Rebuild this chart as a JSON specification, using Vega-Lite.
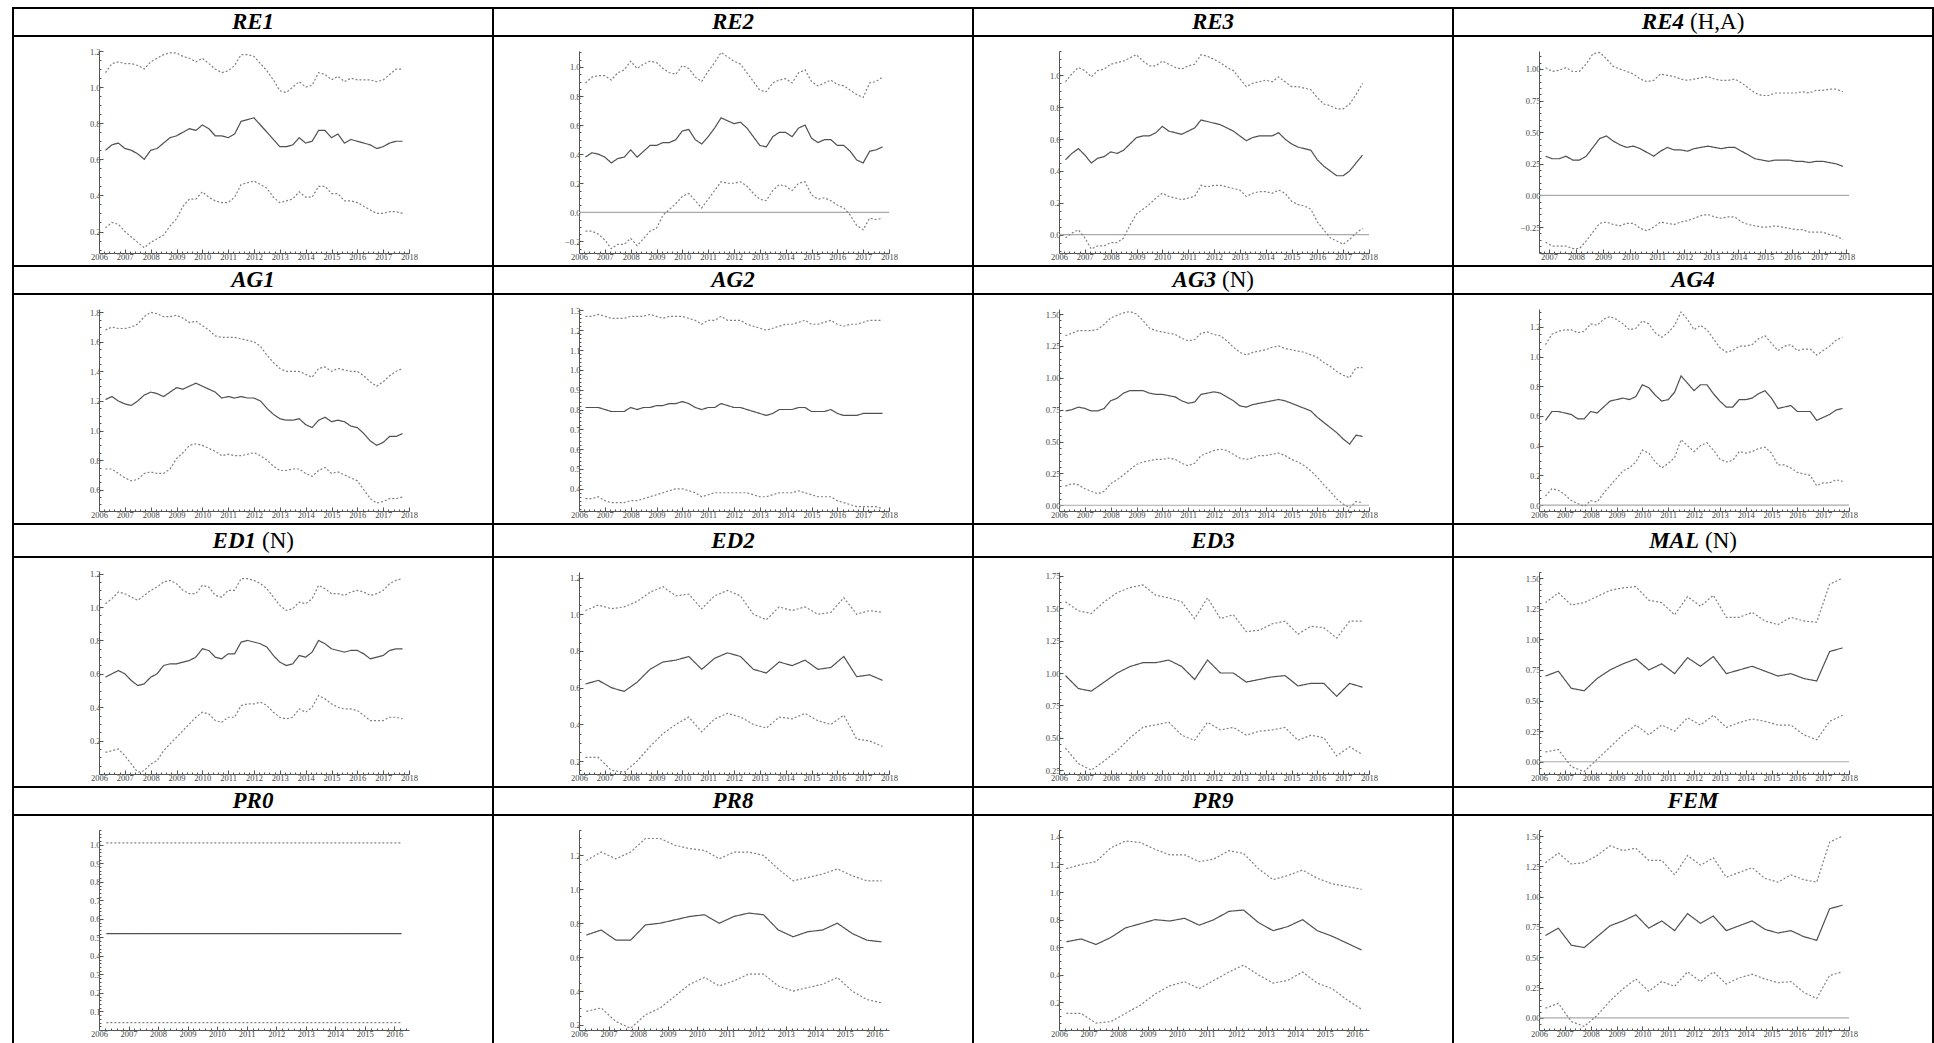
{
"$schema":"https://vega.github.io/schema/vega-lite/v6.json",
"background":"white",
"padding":{"left":12,"top":7,"right":2,"bottom":0},
"columns":4,"spacing":0,"bounds":"flush",
"config":{"view":{"stroke":"#000","strokeWidth":2},
"axis":{"grid":false,"domainColor":"#555","domainWidth":1,"tickColor":"#555","tickWidth":1,"tickSize":-4,"labelFont":"Liberation Serif","labelFontSize":8.5,"labelColor":"#444","labelPadding":3,"labelFlush":false,"labelOverlap":false,"labelBound":false},
"text":{"font":"Liberation Serif","fontSize":23,"color":"#000","baseline":"middle"}},
"datasets":{"est":[
{"p":"RE1","t":2006.25,"lo":0.22,"m":0.65,"hi":1.08},{"p":"RE1","t":2006.5,"lo":0.25,"m":0.68,"hi":1.13},{"p":"RE1","t":2006.75,"lo":0.24,"m":0.69,"hi":1.14},{"p":"RE1","t":2007,"lo":0.2,"m":0.66,"hi":1.13},{"p":"RE1","t":2007.25,"lo":0.17,"m":0.65,"hi":1.13},{"p":"RE1","t":2007.5,"lo":0.14,"m":0.63,"hi":1.12},{"p":"RE1","t":2007.75,"lo":0.11,"m":0.6,"hi":1.1},{"p":"RE1","t":2008,"lo":0.14,"m":0.65,"hi":1.14},{"p":"RE1","t":2008.25,"lo":0.16,"m":0.66,"hi":1.16},{"p":"RE1","t":2008.5,"lo":0.18,"m":0.69,"hi":1.18},{"p":"RE1","t":2008.75,"lo":0.23,"m":0.72,"hi":1.19},{"p":"RE1","t":2009,"lo":0.27,"m":0.73,"hi":1.19},{"p":"RE1","t":2009.25,"lo":0.34,"m":0.75,"hi":1.17},{"p":"RE1","t":2009.5,"lo":0.38,"m":0.77,"hi":1.16},{"p":"RE1","t":2009.75,"lo":0.38,"m":0.76,"hi":1.14},{"p":"RE1","t":2010,"lo":0.42,"m":0.79,"hi":1.16},{"p":"RE1","t":2010.25,"lo":0.39,"m":0.77,"hi":1.13},{"p":"RE1","t":2010.5,"lo":0.37,"m":0.73,"hi":1.1},{"p":"RE1","t":2010.75,"lo":0.36,"m":0.73,"hi":1.08},{"p":"RE1","t":2011,"lo":0.36,"m":0.72,"hi":1.09},{"p":"RE1","t":2011.25,"lo":0.39,"m":0.74,"hi":1.12},{"p":"RE1","t":2011.5,"lo":0.46,"m":0.81,"hi":1.18},{"p":"RE1","t":2011.75,"lo":0.47,"m":0.82,"hi":1.18},{"p":"RE1","t":2012,"lo":0.48,"m":0.83,"hi":1.17},{"p":"RE1","t":2012.25,"lo":0.46,"m":0.79,"hi":1.13},{"p":"RE1","t":2012.5,"lo":0.44,"m":0.75,"hi":1.09},{"p":"RE1","t":2012.75,"lo":0.39,"m":0.71,"hi":1.04},{"p":"RE1","t":2013,"lo":0.36,"m":0.67,"hi":0.98},{"p":"RE1","t":2013.25,"lo":0.37,"m":0.67,"hi":0.97},{"p":"RE1","t":2013.5,"lo":0.38,"m":0.68,"hi":1.0},{"p":"RE1","t":2013.75,"lo":0.42,"m":0.72,"hi":1.03},{"p":"RE1","t":2014,"lo":0.39,"m":0.69,"hi":1.0},{"p":"RE1","t":2014.25,"lo":0.39,"m":0.7,"hi":1.01},{"p":"RE1","t":2014.5,"lo":0.45,"m":0.76,"hi":1.08},{"p":"RE1","t":2014.75,"lo":0.45,"m":0.76,"hi":1.07},{"p":"RE1","t":2015,"lo":0.41,"m":0.72,"hi":1.04},{"p":"RE1","t":2015.25,"lo":0.41,"m":0.74,"hi":1.06},{"p":"RE1","t":2015.5,"lo":0.37,"m":0.69,"hi":1.03},{"p":"RE1","t":2015.75,"lo":0.37,"m":0.71,"hi":1.05},{"p":"RE1","t":2016,"lo":0.36,"m":0.7,"hi":1.04},{"p":"RE1","t":2016.25,"lo":0.34,"m":0.69,"hi":1.04},{"p":"RE1","t":2016.5,"lo":0.32,"m":0.68,"hi":1.04},{"p":"RE1","t":2016.75,"lo":0.3,"m":0.66,"hi":1.03},{"p":"RE1","t":2017,"lo":0.3,"m":0.67,"hi":1.04},{"p":"RE1","t":2017.25,"lo":0.31,"m":0.69,"hi":1.07},{"p":"RE1","t":2017.5,"lo":0.31,"m":0.7,"hi":1.1},{"p":"RE1","t":2017.75,"lo":0.3,"m":0.7,"hi":1.1},
{"p":"RE2","t":2006.25,"lo":-0.13,"m":0.38,"hi":0.89},{"p":"RE2","t":2006.5,"lo":-0.13,"m":0.41,"hi":0.93},{"p":"RE2","t":2006.75,"lo":-0.15,"m":0.4,"hi":0.94},{"p":"RE2","t":2007,"lo":-0.19,"m":0.38,"hi":0.94},{"p":"RE2","t":2007.25,"lo":-0.25,"m":0.34,"hi":0.91},{"p":"RE2","t":2007.5,"lo":-0.22,"m":0.37,"hi":0.96},{"p":"RE2","t":2007.75,"lo":-0.22,"m":0.38,"hi":0.98},{"p":"RE2","t":2008,"lo":-0.18,"m":0.43,"hi":1.04},{"p":"RE2","t":2008.25,"lo":-0.23,"m":0.38,"hi":0.99},{"p":"RE2","t":2008.5,"lo":-0.18,"m":0.42,"hi":1.02},{"p":"RE2","t":2008.75,"lo":-0.13,"m":0.46,"hi":1.04},{"p":"RE2","t":2009,"lo":-0.11,"m":0.46,"hi":1.03},{"p":"RE2","t":2009.25,"lo":-0.02,"m":0.48,"hi":0.99},{"p":"RE2","t":2009.5,"lo":0.02,"m":0.48,"hi":0.96},{"p":"RE2","t":2009.75,"lo":0.06,"m":0.5,"hi":0.95},{"p":"RE2","t":2010,"lo":0.11,"m":0.56,"hi":1.01},{"p":"RE2","t":2010.25,"lo":0.13,"m":0.57,"hi":0.99},{"p":"RE2","t":2010.5,"lo":0.08,"m":0.5,"hi":0.93},{"p":"RE2","t":2010.75,"lo":0.03,"m":0.47,"hi":0.9},{"p":"RE2","t":2011,"lo":0.09,"m":0.52,"hi":0.97},{"p":"RE2","t":2011.25,"lo":0.15,"m":0.58,"hi":1.03},{"p":"RE2","t":2011.5,"lo":0.21,"m":0.65,"hi":1.1},{"p":"RE2","t":2011.75,"lo":0.2,"m":0.63,"hi":1.07},{"p":"RE2","t":2012,"lo":0.2,"m":0.61,"hi":1.04},{"p":"RE2","t":2012.25,"lo":0.21,"m":0.62,"hi":1.02},{"p":"RE2","t":2012.5,"lo":0.18,"m":0.58,"hi":0.96},{"p":"RE2","t":2012.75,"lo":0.13,"m":0.52,"hi":0.9},{"p":"RE2","t":2013,"lo":0.09,"m":0.46,"hi":0.84},{"p":"RE2","t":2013.25,"lo":0.08,"m":0.45,"hi":0.83},{"p":"RE2","t":2013.5,"lo":0.15,"m":0.52,"hi":0.89},{"p":"RE2","t":2013.75,"lo":0.19,"m":0.55,"hi":0.91},{"p":"RE2","t":2014,"lo":0.18,"m":0.55,"hi":0.92},{"p":"RE2","t":2014.25,"lo":0.15,"m":0.52,"hi":0.89},{"p":"RE2","t":2014.5,"lo":0.2,"m":0.58,"hi":0.96},{"p":"RE2","t":2014.75,"lo":0.21,"m":0.6,"hi":0.98},{"p":"RE2","t":2015,"lo":0.12,"m":0.51,"hi":0.9},{"p":"RE2","t":2015.25,"lo":0.09,"m":0.48,"hi":0.87},{"p":"RE2","t":2015.5,"lo":0.1,"m":0.5,"hi":0.89},{"p":"RE2","t":2015.75,"lo":0.08,"m":0.5,"hi":0.91},{"p":"RE2","t":2016,"lo":0.05,"m":0.46,"hi":0.88},{"p":"RE2","t":2016.25,"lo":0.03,"m":0.46,"hi":0.87},{"p":"RE2","t":2016.5,"lo":-0.02,"m":0.42,"hi":0.84},{"p":"RE2","t":2016.75,"lo":-0.09,"m":0.36,"hi":0.81},{"p":"RE2","t":2017,"lo":-0.12,"m":0.34,"hi":0.79},{"p":"RE2","t":2017.25,"lo":-0.04,"m":0.42,"hi":0.89},{"p":"RE2","t":2017.5,"lo":-0.05,"m":0.43,"hi":0.9},{"p":"RE2","t":2017.75,"lo":-0.04,"m":0.45,"hi":0.93},
{"p":"RE3","t":2006.25,"lo":-0.02,"m":0.47,"hi":0.96},{"p":"RE3","t":2006.5,"lo":0.01,"m":0.51,"hi":1.01},{"p":"RE3","t":2006.75,"lo":0.03,"m":0.54,"hi":1.05},{"p":"RE3","t":2007,"lo":-0.02,"m":0.5,"hi":1.03},{"p":"RE3","t":2007.25,"lo":-0.09,"m":0.45,"hi":0.99},{"p":"RE3","t":2007.5,"lo":-0.07,"m":0.48,"hi":1.03},{"p":"RE3","t":2007.75,"lo":-0.07,"m":0.49,"hi":1.04},{"p":"RE3","t":2008,"lo":-0.05,"m":0.52,"hi":1.07},{"p":"RE3","t":2008.25,"lo":-0.05,"m":0.51,"hi":1.08},{"p":"RE3","t":2008.5,"lo":-0.02,"m":0.53,"hi":1.09},{"p":"RE3","t":2008.75,"lo":0.06,"m":0.57,"hi":1.11},{"p":"RE3","t":2009,"lo":0.13,"m":0.61,"hi":1.13},{"p":"RE3","t":2009.25,"lo":0.16,"m":0.62,"hi":1.09},{"p":"RE3","t":2009.5,"lo":0.19,"m":0.62,"hi":1.06},{"p":"RE3","t":2009.75,"lo":0.23,"m":0.64,"hi":1.06},{"p":"RE3","t":2010,"lo":0.26,"m":0.68,"hi":1.09},{"p":"RE3","t":2010.25,"lo":0.24,"m":0.65,"hi":1.07},{"p":"RE3","t":2010.5,"lo":0.23,"m":0.64,"hi":1.05},{"p":"RE3","t":2010.75,"lo":0.22,"m":0.63,"hi":1.04},{"p":"RE3","t":2011,"lo":0.23,"m":0.65,"hi":1.06},{"p":"RE3","t":2011.25,"lo":0.24,"m":0.67,"hi":1.07},{"p":"RE3","t":2011.5,"lo":0.31,"m":0.72,"hi":1.13},{"p":"RE3","t":2011.75,"lo":0.3,"m":0.71,"hi":1.12},{"p":"RE3","t":2012,"lo":0.31,"m":0.7,"hi":1.1},{"p":"RE3","t":2012.25,"lo":0.31,"m":0.69,"hi":1.08},{"p":"RE3","t":2012.5,"lo":0.3,"m":0.67,"hi":1.05},{"p":"RE3","t":2012.75,"lo":0.29,"m":0.65,"hi":1.03},{"p":"RE3","t":2013,"lo":0.28,"m":0.62,"hi":0.98},{"p":"RE3","t":2013.25,"lo":0.24,"m":0.59,"hi":0.93},{"p":"RE3","t":2013.5,"lo":0.26,"m":0.61,"hi":0.95},{"p":"RE3","t":2013.75,"lo":0.27,"m":0.62,"hi":0.96},{"p":"RE3","t":2014,"lo":0.27,"m":0.62,"hi":0.97},{"p":"RE3","t":2014.25,"lo":0.26,"m":0.62,"hi":0.96},{"p":"RE3","t":2014.5,"lo":0.28,"m":0.64,"hi":0.99},{"p":"RE3","t":2014.75,"lo":0.26,"m":0.6,"hi":0.96},{"p":"RE3","t":2015,"lo":0.21,"m":0.57,"hi":0.93},{"p":"RE3","t":2015.25,"lo":0.19,"m":0.55,"hi":0.93},{"p":"RE3","t":2015.5,"lo":0.18,"m":0.54,"hi":0.92},{"p":"RE3","t":2015.75,"lo":0.16,"m":0.53,"hi":0.91},{"p":"RE3","t":2016,"lo":0.08,"m":0.47,"hi":0.86},{"p":"RE3","t":2016.25,"lo":0.03,"m":0.43,"hi":0.82},{"p":"RE3","t":2016.5,"lo":-0.02,"m":0.4,"hi":0.81},{"p":"RE3","t":2016.75,"lo":-0.04,"m":0.37,"hi":0.79},{"p":"RE3","t":2017,"lo":-0.06,"m":0.37,"hi":0.79},{"p":"RE3","t":2017.25,"lo":-0.03,"m":0.4,"hi":0.82},{"p":"RE3","t":2017.5,"lo":0.01,"m":0.45,"hi":0.88},{"p":"RE3","t":2017.75,"lo":0.04,"m":0.5,"hi":0.95},
{"p":"RE4","t":2006.875,"lo":-0.37,"m":0.31,"hi":1.01},{"p":"RE4","t":2007.125,"lo":-0.4,"m":0.29,"hi":0.98},{"p":"RE4","t":2007.375,"lo":-0.4,"m":0.29,"hi":0.99},{"p":"RE4","t":2007.625,"lo":-0.4,"m":0.31,"hi":1.01},{"p":"RE4","t":2007.875,"lo":-0.42,"m":0.28,"hi":0.98},{"p":"RE4","t":2008.125,"lo":-0.42,"m":0.28,"hi":0.98},{"p":"RE4","t":2008.375,"lo":-0.36,"m":0.31,"hi":1.04},{"p":"RE4","t":2008.625,"lo":-0.29,"m":0.38,"hi":1.12},{"p":"RE4","t":2008.875,"lo":-0.22,"m":0.45,"hi":1.13},{"p":"RE4","t":2009.125,"lo":-0.21,"m":0.47,"hi":1.08},{"p":"RE4","t":2009.375,"lo":-0.23,"m":0.43,"hi":1.02},{"p":"RE4","t":2009.625,"lo":-0.24,"m":0.4,"hi":1.0},{"p":"RE4","t":2009.875,"lo":-0.22,"m":0.38,"hi":0.98},{"p":"RE4","t":2010.125,"lo":-0.22,"m":0.39,"hi":0.96},{"p":"RE4","t":2010.375,"lo":-0.26,"m":0.37,"hi":0.92},{"p":"RE4","t":2010.625,"lo":-0.28,"m":0.34,"hi":0.9},{"p":"RE4","t":2010.875,"lo":-0.25,"m":0.31,"hi":0.91},{"p":"RE4","t":2011.125,"lo":-0.21,"m":0.35,"hi":0.96},{"p":"RE4","t":2011.375,"lo":-0.22,"m":0.38,"hi":0.95},{"p":"RE4","t":2011.625,"lo":-0.23,"m":0.36,"hi":0.94},{"p":"RE4","t":2011.875,"lo":-0.21,"m":0.36,"hi":0.92},{"p":"RE4","t":2012.125,"lo":-0.2,"m":0.35,"hi":0.91},{"p":"RE4","t":2012.375,"lo":-0.18,"m":0.37,"hi":0.92},{"p":"RE4","t":2012.625,"lo":-0.16,"m":0.38,"hi":0.93},{"p":"RE4","t":2012.875,"lo":-0.15,"m":0.39,"hi":0.94},{"p":"RE4","t":2013.125,"lo":-0.17,"m":0.38,"hi":0.92},{"p":"RE4","t":2013.375,"lo":-0.18,"m":0.37,"hi":0.91},{"p":"RE4","t":2013.625,"lo":-0.17,"m":0.38,"hi":0.91},{"p":"RE4","t":2013.875,"lo":-0.17,"m":0.38,"hi":0.92},{"p":"RE4","t":2014.125,"lo":-0.21,"m":0.35,"hi":0.89},{"p":"RE4","t":2014.375,"lo":-0.23,"m":0.32,"hi":0.85},{"p":"RE4","t":2014.625,"lo":-0.24,"m":0.29,"hi":0.81},{"p":"RE4","t":2014.875,"lo":-0.25,"m":0.28,"hi":0.79},{"p":"RE4","t":2015.125,"lo":-0.25,"m":0.27,"hi":0.79},{"p":"RE4","t":2015.375,"lo":-0.24,"m":0.28,"hi":0.81},{"p":"RE4","t":2015.625,"lo":-0.25,"m":0.28,"hi":0.81},{"p":"RE4","t":2015.875,"lo":-0.26,"m":0.28,"hi":0.81},{"p":"RE4","t":2016.125,"lo":-0.27,"m":0.27,"hi":0.81},{"p":"RE4","t":2016.375,"lo":-0.27,"m":0.27,"hi":0.82},{"p":"RE4","t":2016.625,"lo":-0.29,"m":0.26,"hi":0.81},{"p":"RE4","t":2016.875,"lo":-0.29,"m":0.27,"hi":0.83},{"p":"RE4","t":2017.125,"lo":-0.29,"m":0.27,"hi":0.83},{"p":"RE4","t":2017.375,"lo":-0.31,"m":0.26,"hi":0.84},{"p":"RE4","t":2017.625,"lo":-0.32,"m":0.25,"hi":0.84},{"p":"RE4","t":2017.875,"lo":-0.35,"m":0.23,"hi":0.82},
{"p":"AG1","t":2006.25,"lo":0.74,"m":1.21,"hi":1.68},{"p":"AG1","t":2006.5,"lo":0.74,"m":1.23,"hi":1.7},{"p":"AG1","t":2006.75,"lo":0.71,"m":1.2,"hi":1.69},{"p":"AG1","t":2007,"lo":0.68,"m":1.18,"hi":1.69},{"p":"AG1","t":2007.25,"lo":0.66,"m":1.17,"hi":1.7},{"p":"AG1","t":2007.5,"lo":0.67,"m":1.2,"hi":1.72},{"p":"AG1","t":2007.75,"lo":0.71,"m":1.24,"hi":1.77},{"p":"AG1","t":2008,"lo":0.72,"m":1.26,"hi":1.8},{"p":"AG1","t":2008.25,"lo":0.71,"m":1.25,"hi":1.79},{"p":"AG1","t":2008.5,"lo":0.71,"m":1.23,"hi":1.77},{"p":"AG1","t":2008.75,"lo":0.74,"m":1.26,"hi":1.77},{"p":"AG1","t":2009,"lo":0.81,"m":1.29,"hi":1.78},{"p":"AG1","t":2009.25,"lo":0.85,"m":1.28,"hi":1.76},{"p":"AG1","t":2009.5,"lo":0.9,"m":1.3,"hi":1.73},{"p":"AG1","t":2009.75,"lo":0.91,"m":1.32,"hi":1.74},{"p":"AG1","t":2010,"lo":0.9,"m":1.3,"hi":1.71},{"p":"AG1","t":2010.25,"lo":0.88,"m":1.28,"hi":1.68},{"p":"AG1","t":2010.5,"lo":0.86,"m":1.26,"hi":1.64},{"p":"AG1","t":2010.75,"lo":0.83,"m":1.22,"hi":1.63},{"p":"AG1","t":2011,"lo":0.84,"m":1.23,"hi":1.63},{"p":"AG1","t":2011.25,"lo":0.83,"m":1.22,"hi":1.63},{"p":"AG1","t":2011.5,"lo":0.83,"m":1.23,"hi":1.62},{"p":"AG1","t":2011.75,"lo":0.84,"m":1.22,"hi":1.61},{"p":"AG1","t":2012,"lo":0.85,"m":1.22,"hi":1.6},{"p":"AG1","t":2012.25,"lo":0.83,"m":1.2,"hi":1.57},{"p":"AG1","t":2012.5,"lo":0.8,"m":1.15,"hi":1.51},{"p":"AG1","t":2012.75,"lo":0.76,"m":1.11,"hi":1.46},{"p":"AG1","t":2013,"lo":0.73,"m":1.08,"hi":1.42},{"p":"AG1","t":2013.25,"lo":0.73,"m":1.07,"hi":1.4},{"p":"AG1","t":2013.5,"lo":0.74,"m":1.07,"hi":1.4},{"p":"AG1","t":2013.75,"lo":0.74,"m":1.08,"hi":1.4},{"p":"AG1","t":2014,"lo":0.71,"m":1.04,"hi":1.38},{"p":"AG1","t":2014.25,"lo":0.69,"m":1.02,"hi":1.36},{"p":"AG1","t":2014.5,"lo":0.73,"m":1.07,"hi":1.42},{"p":"AG1","t":2014.75,"lo":0.75,"m":1.09,"hi":1.43},{"p":"AG1","t":2015,"lo":0.71,"m":1.06,"hi":1.4},{"p":"AG1","t":2015.25,"lo":0.72,"m":1.07,"hi":1.42},{"p":"AG1","t":2015.5,"lo":0.7,"m":1.06,"hi":1.41},{"p":"AG1","t":2015.75,"lo":0.68,"m":1.03,"hi":1.4},{"p":"AG1","t":2016,"lo":0.66,"m":1.02,"hi":1.4},{"p":"AG1","t":2016.25,"lo":0.6,"m":0.98,"hi":1.37},{"p":"AG1","t":2016.5,"lo":0.54,"m":0.93,"hi":1.33},{"p":"AG1","t":2016.75,"lo":0.51,"m":0.9,"hi":1.3},{"p":"AG1","t":2017,"lo":0.52,"m":0.92,"hi":1.33},{"p":"AG1","t":2017.25,"lo":0.54,"m":0.96,"hi":1.37},{"p":"AG1","t":2017.5,"lo":0.54,"m":0.96,"hi":1.4},{"p":"AG1","t":2017.75,"lo":0.55,"m":0.98,"hi":1.42},
{"p":"AG2","t":2006.25,"lo":0.35,"m":0.81,"hi":1.27},{"p":"AG2","t":2006.5,"lo":0.35,"m":0.81,"hi":1.27},{"p":"AG2","t":2006.75,"lo":0.36,"m":0.81,"hi":1.28},{"p":"AG2","t":2007,"lo":0.34,"m":0.8,"hi":1.27},{"p":"AG2","t":2007.25,"lo":0.33,"m":0.79,"hi":1.26},{"p":"AG2","t":2007.5,"lo":0.33,"m":0.79,"hi":1.26},{"p":"AG2","t":2007.75,"lo":0.33,"m":0.79,"hi":1.26},{"p":"AG2","t":2008,"lo":0.34,"m":0.81,"hi":1.27},{"p":"AG2","t":2008.25,"lo":0.34,"m":0.8,"hi":1.27},{"p":"AG2","t":2008.5,"lo":0.35,"m":0.81,"hi":1.27},{"p":"AG2","t":2008.75,"lo":0.36,"m":0.81,"hi":1.28},{"p":"AG2","t":2009,"lo":0.37,"m":0.82,"hi":1.27},{"p":"AG2","t":2009.25,"lo":0.38,"m":0.82,"hi":1.26},{"p":"AG2","t":2009.5,"lo":0.39,"m":0.83,"hi":1.27},{"p":"AG2","t":2009.75,"lo":0.4,"m":0.83,"hi":1.27},{"p":"AG2","t":2010,"lo":0.4,"m":0.84,"hi":1.27},{"p":"AG2","t":2010.25,"lo":0.39,"m":0.83,"hi":1.26},{"p":"AG2","t":2010.5,"lo":0.38,"m":0.81,"hi":1.25},{"p":"AG2","t":2010.75,"lo":0.36,"m":0.8,"hi":1.23},{"p":"AG2","t":2011,"lo":0.37,"m":0.81,"hi":1.25},{"p":"AG2","t":2011.25,"lo":0.38,"m":0.81,"hi":1.25},{"p":"AG2","t":2011.5,"lo":0.38,"m":0.83,"hi":1.27},{"p":"AG2","t":2011.75,"lo":0.38,"m":0.82,"hi":1.25},{"p":"AG2","t":2012,"lo":0.38,"m":0.81,"hi":1.25},{"p":"AG2","t":2012.25,"lo":0.38,"m":0.81,"hi":1.25},{"p":"AG2","t":2012.5,"lo":0.38,"m":0.8,"hi":1.23},{"p":"AG2","t":2012.75,"lo":0.37,"m":0.79,"hi":1.22},{"p":"AG2","t":2013,"lo":0.36,"m":0.78,"hi":1.21},{"p":"AG2","t":2013.25,"lo":0.36,"m":0.77,"hi":1.2},{"p":"AG2","t":2013.5,"lo":0.37,"m":0.78,"hi":1.21},{"p":"AG2","t":2013.75,"lo":0.38,"m":0.8,"hi":1.22},{"p":"AG2","t":2014,"lo":0.38,"m":0.8,"hi":1.23},{"p":"AG2","t":2014.25,"lo":0.38,"m":0.8,"hi":1.23},{"p":"AG2","t":2014.5,"lo":0.39,"m":0.81,"hi":1.24},{"p":"AG2","t":2014.75,"lo":0.38,"m":0.81,"hi":1.25},{"p":"AG2","t":2015,"lo":0.37,"m":0.79,"hi":1.23},{"p":"AG2","t":2015.25,"lo":0.36,"m":0.79,"hi":1.23},{"p":"AG2","t":2015.5,"lo":0.36,"m":0.79,"hi":1.24},{"p":"AG2","t":2015.75,"lo":0.36,"m":0.8,"hi":1.25},{"p":"AG2","t":2016,"lo":0.34,"m":0.78,"hi":1.23},{"p":"AG2","t":2016.25,"lo":0.33,"m":0.77,"hi":1.22},{"p":"AG2","t":2016.5,"lo":0.32,"m":0.77,"hi":1.23},{"p":"AG2","t":2016.75,"lo":0.31,"m":0.77,"hi":1.23},{"p":"AG2","t":2017,"lo":0.31,"m":0.78,"hi":1.24},{"p":"AG2","t":2017.25,"lo":0.31,"m":0.78,"hi":1.25},{"p":"AG2","t":2017.5,"lo":0.31,"m":0.78,"hi":1.25},{"p":"AG2","t":2017.75,"lo":0.3,"m":0.78,"hi":1.25},
{"p":"AG3","t":2006.25,"lo":0.15,"m":0.74,"hi":1.33},{"p":"AG3","t":2006.5,"lo":0.17,"m":0.75,"hi":1.35},{"p":"AG3","t":2006.75,"lo":0.16,"m":0.77,"hi":1.37},{"p":"AG3","t":2007,"lo":0.13,"m":0.76,"hi":1.37},{"p":"AG3","t":2007.25,"lo":0.11,"m":0.74,"hi":1.37},{"p":"AG3","t":2007.5,"lo":0.09,"m":0.74,"hi":1.38},{"p":"AG3","t":2007.75,"lo":0.11,"m":0.76,"hi":1.42},{"p":"AG3","t":2008,"lo":0.17,"m":0.82,"hi":1.47},{"p":"AG3","t":2008.25,"lo":0.2,"m":0.84,"hi":1.49},{"p":"AG3","t":2008.5,"lo":0.24,"m":0.88,"hi":1.51},{"p":"AG3","t":2008.75,"lo":0.28,"m":0.9,"hi":1.52},{"p":"AG3","t":2009,"lo":0.32,"m":0.9,"hi":1.5},{"p":"AG3","t":2009.25,"lo":0.34,"m":0.9,"hi":1.45},{"p":"AG3","t":2009.5,"lo":0.35,"m":0.88,"hi":1.39},{"p":"AG3","t":2009.75,"lo":0.36,"m":0.87,"hi":1.37},{"p":"AG3","t":2010,"lo":0.36,"m":0.87,"hi":1.36},{"p":"AG3","t":2010.25,"lo":0.37,"m":0.86,"hi":1.35},{"p":"AG3","t":2010.5,"lo":0.36,"m":0.85,"hi":1.34},{"p":"AG3","t":2010.75,"lo":0.33,"m":0.82,"hi":1.31},{"p":"AG3","t":2011,"lo":0.31,"m":0.8,"hi":1.29},{"p":"AG3","t":2011.25,"lo":0.33,"m":0.81,"hi":1.3},{"p":"AG3","t":2011.5,"lo":0.39,"m":0.87,"hi":1.35},{"p":"AG3","t":2011.75,"lo":0.41,"m":0.88,"hi":1.36},{"p":"AG3","t":2012,"lo":0.43,"m":0.89,"hi":1.34},{"p":"AG3","t":2012.25,"lo":0.44,"m":0.88,"hi":1.33},{"p":"AG3","t":2012.5,"lo":0.43,"m":0.85,"hi":1.29},{"p":"AG3","t":2012.75,"lo":0.4,"m":0.82,"hi":1.24},{"p":"AG3","t":2013,"lo":0.37,"m":0.78,"hi":1.2},{"p":"AG3","t":2013.25,"lo":0.36,"m":0.77,"hi":1.18},{"p":"AG3","t":2013.5,"lo":0.37,"m":0.79,"hi":1.2},{"p":"AG3","t":2013.75,"lo":0.39,"m":0.8,"hi":1.21},{"p":"AG3","t":2014,"lo":0.39,"m":0.81,"hi":1.22},{"p":"AG3","t":2014.25,"lo":0.4,"m":0.82,"hi":1.24},{"p":"AG3","t":2014.5,"lo":0.41,"m":0.83,"hi":1.25},{"p":"AG3","t":2014.75,"lo":0.39,"m":0.82,"hi":1.23},{"p":"AG3","t":2015,"lo":0.36,"m":0.8,"hi":1.22},{"p":"AG3","t":2015.25,"lo":0.34,"m":0.78,"hi":1.21},{"p":"AG3","t":2015.5,"lo":0.31,"m":0.76,"hi":1.2},{"p":"AG3","t":2015.75,"lo":0.27,"m":0.74,"hi":1.18},{"p":"AG3","t":2016,"lo":0.22,"m":0.69,"hi":1.16},{"p":"AG3","t":2016.25,"lo":0.16,"m":0.65,"hi":1.12},{"p":"AG3","t":2016.5,"lo":0.11,"m":0.61,"hi":1.09},{"p":"AG3","t":2016.75,"lo":0.05,"m":0.57,"hi":1.05},{"p":"AG3","t":2017,"lo":0.01,"m":0.52,"hi":1.02},{"p":"AG3","t":2017.25,"lo":-0.02,"m":0.48,"hi":1.0},{"p":"AG3","t":2017.5,"lo":0.03,"m":0.55,"hi":1.08},{"p":"AG3","t":2017.75,"lo":0.02,"m":0.54,"hi":1.08},
{"p":"AG4","t":2006.25,"lo":0.06,"m":0.57,"hi":1.08},{"p":"AG4","t":2006.5,"lo":0.11,"m":0.63,"hi":1.15},{"p":"AG4","t":2006.75,"lo":0.1,"m":0.63,"hi":1.17},{"p":"AG4","t":2007,"lo":0.07,"m":0.62,"hi":1.18},{"p":"AG4","t":2007.25,"lo":0.03,"m":0.61,"hi":1.18},{"p":"AG4","t":2007.5,"lo":0.01,"m":0.58,"hi":1.16},{"p":"AG4","t":2007.75,"lo":-0.01,"m":0.58,"hi":1.17},{"p":"AG4","t":2008,"lo":0.03,"m":0.63,"hi":1.22},{"p":"AG4","t":2008.25,"lo":0.02,"m":0.62,"hi":1.21},{"p":"AG4","t":2008.5,"lo":0.08,"m":0.66,"hi":1.25},{"p":"AG4","t":2008.75,"lo":0.13,"m":0.7,"hi":1.27},{"p":"AG4","t":2009,"lo":0.18,"m":0.71,"hi":1.25},{"p":"AG4","t":2009.25,"lo":0.23,"m":0.72,"hi":1.22},{"p":"AG4","t":2009.5,"lo":0.25,"m":0.71,"hi":1.18},{"p":"AG4","t":2009.75,"lo":0.29,"m":0.73,"hi":1.19},{"p":"AG4","t":2010,"lo":0.37,"m":0.81,"hi":1.24},{"p":"AG4","t":2010.25,"lo":0.35,"m":0.79,"hi":1.22},{"p":"AG4","t":2010.5,"lo":0.29,"m":0.74,"hi":1.16},{"p":"AG4","t":2010.75,"lo":0.25,"m":0.7,"hi":1.13},{"p":"AG4","t":2011,"lo":0.28,"m":0.71,"hi":1.16},{"p":"AG4","t":2011.25,"lo":0.32,"m":0.76,"hi":1.21},{"p":"AG4","t":2011.5,"lo":0.44,"m":0.87,"hi":1.3},{"p":"AG4","t":2011.75,"lo":0.4,"m":0.82,"hi":1.25},{"p":"AG4","t":2012,"lo":0.36,"m":0.77,"hi":1.18},{"p":"AG4","t":2012.25,"lo":0.4,"m":0.81,"hi":1.21},{"p":"AG4","t":2012.5,"lo":0.42,"m":0.81,"hi":1.18},{"p":"AG4","t":2012.75,"lo":0.37,"m":0.75,"hi":1.12},{"p":"AG4","t":2013,"lo":0.31,"m":0.7,"hi":1.06},{"p":"AG4","t":2013.25,"lo":0.29,"m":0.66,"hi":1.03},{"p":"AG4","t":2013.5,"lo":0.3,"m":0.66,"hi":1.04},{"p":"AG4","t":2013.75,"lo":0.36,"m":0.71,"hi":1.07},{"p":"AG4","t":2014,"lo":0.35,"m":0.71,"hi":1.07},{"p":"AG4","t":2014.25,"lo":0.36,"m":0.72,"hi":1.08},{"p":"AG4","t":2014.5,"lo":0.38,"m":0.75,"hi":1.12},{"p":"AG4","t":2014.75,"lo":0.39,"m":0.77,"hi":1.14},{"p":"AG4","t":2015,"lo":0.35,"m":0.72,"hi":1.09},{"p":"AG4","t":2015.25,"lo":0.27,"m":0.65,"hi":1.04},{"p":"AG4","t":2015.5,"lo":0.27,"m":0.66,"hi":1.07},{"p":"AG4","t":2015.75,"lo":0.25,"m":0.67,"hi":1.08},{"p":"AG4","t":2016,"lo":0.22,"m":0.63,"hi":1.04},{"p":"AG4","t":2016.25,"lo":0.21,"m":0.63,"hi":1.05},{"p":"AG4","t":2016.5,"lo":0.2,"m":0.63,"hi":1.05},{"p":"AG4","t":2016.75,"lo":0.13,"m":0.57,"hi":1.01},{"p":"AG4","t":2017,"lo":0.15,"m":0.59,"hi":1.04},{"p":"AG4","t":2017.25,"lo":0.15,"m":0.61,"hi":1.07},{"p":"AG4","t":2017.5,"lo":0.17,"m":0.64,"hi":1.11},{"p":"AG4","t":2017.75,"lo":0.16,"m":0.65,"hi":1.13},
{"p":"ED1","t":2006.25,"lo":0.13,"m":0.58,"hi":1.02},{"p":"ED1","t":2006.5,"lo":0.14,"m":0.6,"hi":1.05},{"p":"ED1","t":2006.75,"lo":0.15,"m":0.62,"hi":1.09},{"p":"ED1","t":2007,"lo":0.11,"m":0.6,"hi":1.08},{"p":"ED1","t":2007.25,"lo":0.06,"m":0.56,"hi":1.06},{"p":"ED1","t":2007.5,"lo":0.01,"m":0.53,"hi":1.04},{"p":"ED1","t":2007.75,"lo":0.02,"m":0.54,"hi":1.07},{"p":"ED1","t":2008,"lo":0.06,"m":0.58,"hi":1.1},{"p":"ED1","t":2008.25,"lo":0.08,"m":0.6,"hi":1.12},{"p":"ED1","t":2008.5,"lo":0.14,"m":0.65,"hi":1.15},{"p":"ED1","t":2008.75,"lo":0.18,"m":0.66,"hi":1.16},{"p":"ED1","t":2009,"lo":0.22,"m":0.66,"hi":1.14},{"p":"ED1","t":2009.25,"lo":0.26,"m":0.67,"hi":1.1},{"p":"ED1","t":2009.5,"lo":0.3,"m":0.68,"hi":1.08},{"p":"ED1","t":2009.75,"lo":0.34,"m":0.7,"hi":1.08},{"p":"ED1","t":2010,"lo":0.37,"m":0.75,"hi":1.13},{"p":"ED1","t":2010.25,"lo":0.36,"m":0.74,"hi":1.12},{"p":"ED1","t":2010.5,"lo":0.32,"m":0.7,"hi":1.07},{"p":"ED1","t":2010.75,"lo":0.31,"m":0.69,"hi":1.06},{"p":"ED1","t":2011,"lo":0.34,"m":0.72,"hi":1.1},{"p":"ED1","t":2011.25,"lo":0.34,"m":0.72,"hi":1.1},{"p":"ED1","t":2011.5,"lo":0.41,"m":0.79,"hi":1.17},{"p":"ED1","t":2011.75,"lo":0.42,"m":0.8,"hi":1.17},{"p":"ED1","t":2012,"lo":0.42,"m":0.79,"hi":1.16},{"p":"ED1","t":2012.25,"lo":0.43,"m":0.78,"hi":1.14},{"p":"ED1","t":2012.5,"lo":0.41,"m":0.76,"hi":1.11},{"p":"ED1","t":2012.75,"lo":0.37,"m":0.71,"hi":1.06},{"p":"ED1","t":2013,"lo":0.34,"m":0.67,"hi":1.01},{"p":"ED1","t":2013.25,"lo":0.33,"m":0.65,"hi":0.98},{"p":"ED1","t":2013.5,"lo":0.34,"m":0.66,"hi":0.99},{"p":"ED1","t":2013.75,"lo":0.39,"m":0.71,"hi":1.03},{"p":"ED1","t":2014,"lo":0.37,"m":0.7,"hi":1.02},{"p":"ED1","t":2014.25,"lo":0.4,"m":0.73,"hi":1.05},{"p":"ED1","t":2014.5,"lo":0.47,"m":0.8,"hi":1.13},{"p":"ED1","t":2014.75,"lo":0.45,"m":0.78,"hi":1.11},{"p":"ED1","t":2015,"lo":0.42,"m":0.75,"hi":1.08},{"p":"ED1","t":2015.25,"lo":0.4,"m":0.74,"hi":1.08},{"p":"ED1","t":2015.5,"lo":0.39,"m":0.73,"hi":1.07},{"p":"ED1","t":2015.75,"lo":0.39,"m":0.74,"hi":1.09},{"p":"ED1","t":2016,"lo":0.38,"m":0.74,"hi":1.1},{"p":"ED1","t":2016.25,"lo":0.35,"m":0.72,"hi":1.09},{"p":"ED1","t":2016.5,"lo":0.32,"m":0.69,"hi":1.07},{"p":"ED1","t":2016.75,"lo":0.32,"m":0.7,"hi":1.08},{"p":"ED1","t":2017,"lo":0.32,"m":0.71,"hi":1.1},{"p":"ED1","t":2017.25,"lo":0.34,"m":0.74,"hi":1.14},{"p":"ED1","t":2017.5,"lo":0.34,"m":0.75,"hi":1.16},{"p":"ED1","t":2017.75,"lo":0.33,"m":0.75,"hi":1.17},
{"p":"ED2","t":2006.25,"lo":0.22,"m":0.62,"hi":1.02},{"p":"ED2","t":2006.75,"lo":0.22,"m":0.64,"hi":1.05},{"p":"ED2","t":2007.25,"lo":0.15,"m":0.6,"hi":1.03},{"p":"ED2","t":2007.75,"lo":0.14,"m":0.58,"hi":1.04},{"p":"ED2","t":2008.25,"lo":0.2,"m":0.63,"hi":1.07},{"p":"ED2","t":2008.75,"lo":0.28,"m":0.7,"hi":1.12},{"p":"ED2","t":2009.25,"lo":0.35,"m":0.74,"hi":1.15},{"p":"ED2","t":2009.75,"lo":0.4,"m":0.75,"hi":1.1},{"p":"ED2","t":2010.25,"lo":0.44,"m":0.77,"hi":1.11},{"p":"ED2","t":2010.75,"lo":0.36,"m":0.7,"hi":1.03},{"p":"ED2","t":2011.25,"lo":0.43,"m":0.76,"hi":1.1},{"p":"ED2","t":2011.75,"lo":0.46,"m":0.79,"hi":1.13},{"p":"ED2","t":2012.25,"lo":0.44,"m":0.77,"hi":1.1},{"p":"ED2","t":2012.75,"lo":0.4,"m":0.7,"hi":1.0},{"p":"ED2","t":2013.25,"lo":0.38,"m":0.68,"hi":0.97},{"p":"ED2","t":2013.75,"lo":0.44,"m":0.74,"hi":1.04},{"p":"ED2","t":2014.25,"lo":0.43,"m":0.72,"hi":1.02},{"p":"ED2","t":2014.75,"lo":0.46,"m":0.75,"hi":1.04},{"p":"ED2","t":2015.25,"lo":0.42,"m":0.7,"hi":1.0},{"p":"ED2","t":2015.75,"lo":0.4,"m":0.71,"hi":1.01},{"p":"ED2","t":2016.25,"lo":0.45,"m":0.77,"hi":1.09},{"p":"ED2","t":2016.75,"lo":0.32,"m":0.66,"hi":1.0},{"p":"ED2","t":2017.25,"lo":0.31,"m":0.67,"hi":1.02},{"p":"ED2","t":2017.75,"lo":0.28,"m":0.64,"hi":1.01},
{"p":"ED3","t":2006.25,"lo":0.42,"m":0.98,"hi":1.55},{"p":"ED3","t":2006.75,"lo":0.3,"m":0.88,"hi":1.48},{"p":"ED3","t":2007.25,"lo":0.25,"m":0.86,"hi":1.46},{"p":"ED3","t":2007.75,"lo":0.32,"m":0.93,"hi":1.55},{"p":"ED3","t":2008.25,"lo":0.4,"m":1.0,"hi":1.62},{"p":"ED3","t":2008.75,"lo":0.5,"m":1.05,"hi":1.66},{"p":"ED3","t":2009.25,"lo":0.58,"m":1.08,"hi":1.68},{"p":"ED3","t":2009.75,"lo":0.6,"m":1.08,"hi":1.6},{"p":"ED3","t":2010.25,"lo":0.62,"m":1.1,"hi":1.58},{"p":"ED3","t":2010.75,"lo":0.52,"m":1.05,"hi":1.55},{"p":"ED3","t":2011.25,"lo":0.48,"m":0.95,"hi":1.42},{"p":"ED3","t":2011.75,"lo":0.62,"m":1.1,"hi":1.58},{"p":"ED3","t":2012.25,"lo":0.56,"m":1.0,"hi":1.42},{"p":"ED3","t":2012.75,"lo":0.58,"m":1.0,"hi":1.45},{"p":"ED3","t":2013.25,"lo":0.52,"m":0.93,"hi":1.32},{"p":"ED3","t":2013.75,"lo":0.55,"m":0.95,"hi":1.33},{"p":"ED3","t":2014.25,"lo":0.56,"m":0.97,"hi":1.38},{"p":"ED3","t":2014.75,"lo":0.58,"m":0.98,"hi":1.4},{"p":"ED3","t":2015.25,"lo":0.48,"m":0.9,"hi":1.3},{"p":"ED3","t":2015.75,"lo":0.52,"m":0.92,"hi":1.36},{"p":"ED3","t":2016.25,"lo":0.5,"m":0.92,"hi":1.35},{"p":"ED3","t":2016.75,"lo":0.36,"m":0.82,"hi":1.27},{"p":"ED3","t":2017.25,"lo":0.43,"m":0.92,"hi":1.4},{"p":"ED3","t":2017.75,"lo":0.37,"m":0.89,"hi":1.4},
{"p":"MAL","t":2006.25,"lo":0.08,"m":0.7,"hi":1.3},{"p":"MAL","t":2006.75,"lo":0.1,"m":0.74,"hi":1.38},{"p":"MAL","t":2007.25,"lo":-0.04,"m":0.6,"hi":1.28},{"p":"MAL","t":2007.75,"lo":-0.08,"m":0.58,"hi":1.3},{"p":"MAL","t":2008.25,"lo":0.02,"m":0.68,"hi":1.35},{"p":"MAL","t":2008.75,"lo":0.12,"m":0.75,"hi":1.4},{"p":"MAL","t":2009.25,"lo":0.22,"m":0.8,"hi":1.42},{"p":"MAL","t":2009.75,"lo":0.3,"m":0.84,"hi":1.43},{"p":"MAL","t":2010.25,"lo":0.22,"m":0.75,"hi":1.32},{"p":"MAL","t":2010.75,"lo":0.3,"m":0.8,"hi":1.3},{"p":"MAL","t":2011.25,"lo":0.25,"m":0.72,"hi":1.2},{"p":"MAL","t":2011.75,"lo":0.36,"m":0.85,"hi":1.35},{"p":"MAL","t":2012.25,"lo":0.3,"m":0.78,"hi":1.27},{"p":"MAL","t":2012.75,"lo":0.38,"m":0.86,"hi":1.36},{"p":"MAL","t":2013.25,"lo":0.28,"m":0.72,"hi":1.18},{"p":"MAL","t":2013.75,"lo":0.32,"m":0.75,"hi":1.18},{"p":"MAL","t":2014.25,"lo":0.35,"m":0.78,"hi":1.22},{"p":"MAL","t":2014.75,"lo":0.33,"m":0.74,"hi":1.15},{"p":"MAL","t":2015.25,"lo":0.3,"m":0.7,"hi":1.12},{"p":"MAL","t":2015.75,"lo":0.3,"m":0.72,"hi":1.18},{"p":"MAL","t":2016.25,"lo":0.22,"m":0.68,"hi":1.15},{"p":"MAL","t":2016.75,"lo":0.18,"m":0.66,"hi":1.14},{"p":"MAL","t":2017.25,"lo":0.33,"m":0.9,"hi":1.45},{"p":"MAL","t":2017.75,"lo":0.38,"m":0.93,"hi":1.5},
{"p":"PR0","t":2006.25,"lo":0.04,"m":0.52,"hi":1.01},{"p":"PR0","t":2016.25,"lo":0.04,"m":0.52,"hi":1.01},
{"p":"PR8","t":2006.25,"lo":0.28,"m":0.73,"hi":1.17},{"p":"PR8","t":2006.75,"lo":0.3,"m":0.76,"hi":1.22},{"p":"PR8","t":2007.25,"lo":0.22,"m":0.7,"hi":1.18},{"p":"PR8","t":2007.75,"lo":0.18,"m":0.7,"hi":1.22},{"p":"PR8","t":2008.25,"lo":0.26,"m":0.79,"hi":1.3},{"p":"PR8","t":2008.75,"lo":0.3,"m":0.8,"hi":1.3},{"p":"PR8","t":2009.25,"lo":0.37,"m":0.82,"hi":1.26},{"p":"PR8","t":2009.75,"lo":0.44,"m":0.84,"hi":1.24},{"p":"PR8","t":2010.25,"lo":0.48,"m":0.85,"hi":1.23},{"p":"PR8","t":2010.75,"lo":0.43,"m":0.8,"hi":1.18},{"p":"PR8","t":2011.25,"lo":0.46,"m":0.84,"hi":1.22},{"p":"PR8","t":2011.75,"lo":0.5,"m":0.86,"hi":1.22},{"p":"PR8","t":2012.25,"lo":0.5,"m":0.85,"hi":1.2},{"p":"PR8","t":2012.75,"lo":0.43,"m":0.76,"hi":1.12},{"p":"PR8","t":2013.25,"lo":0.4,"m":0.72,"hi":1.05},{"p":"PR8","t":2013.75,"lo":0.42,"m":0.75,"hi":1.07},{"p":"PR8","t":2014.25,"lo":0.44,"m":0.76,"hi":1.09},{"p":"PR8","t":2014.75,"lo":0.48,"m":0.8,"hi":1.12},{"p":"PR8","t":2015.25,"lo":0.4,"m":0.74,"hi":1.08},{"p":"PR8","t":2015.75,"lo":0.35,"m":0.7,"hi":1.05},{"p":"PR8","t":2016.25,"lo":0.33,"m":0.69,"hi":1.05},
{"p":"PR9","t":2006.25,"lo":0.12,"m":0.64,"hi":1.17},{"p":"PR9","t":2006.75,"lo":0.12,"m":0.66,"hi":1.2},{"p":"PR9","t":2007.25,"lo":0.05,"m":0.62,"hi":1.22},{"p":"PR9","t":2007.75,"lo":0.06,"m":0.67,"hi":1.32},{"p":"PR9","t":2008.25,"lo":0.12,"m":0.74,"hi":1.37},{"p":"PR9","t":2008.75,"lo":0.18,"m":0.77,"hi":1.36},{"p":"PR9","t":2009.25,"lo":0.26,"m":0.8,"hi":1.31},{"p":"PR9","t":2009.75,"lo":0.32,"m":0.79,"hi":1.27},{"p":"PR9","t":2010.25,"lo":0.35,"m":0.81,"hi":1.27},{"p":"PR9","t":2010.75,"lo":0.3,"m":0.76,"hi":1.22},{"p":"PR9","t":2011.25,"lo":0.36,"m":0.8,"hi":1.24},{"p":"PR9","t":2011.75,"lo":0.42,"m":0.86,"hi":1.3},{"p":"PR9","t":2012.25,"lo":0.47,"m":0.87,"hi":1.28},{"p":"PR9","t":2012.75,"lo":0.4,"m":0.78,"hi":1.17},{"p":"PR9","t":2013.25,"lo":0.34,"m":0.72,"hi":1.09},{"p":"PR9","t":2013.75,"lo":0.36,"m":0.75,"hi":1.12},{"p":"PR9","t":2014.25,"lo":0.42,"m":0.8,"hi":1.16},{"p":"PR9","t":2014.75,"lo":0.34,"m":0.72,"hi":1.1},{"p":"PR9","t":2015.25,"lo":0.3,"m":0.68,"hi":1.06},{"p":"PR9","t":2015.75,"lo":0.22,"m":0.63,"hi":1.04},{"p":"PR9","t":2016.25,"lo":0.15,"m":0.58,"hi":1.02},
{"p":"FEM","t":2006.25,"lo":0.08,"m":0.68,"hi":1.28},{"p":"FEM","t":2006.75,"lo":0.12,"m":0.74,"hi":1.36},{"p":"FEM","t":2007.25,"lo":-0.03,"m":0.6,"hi":1.27},{"p":"FEM","t":2007.75,"lo":-0.07,"m":0.58,"hi":1.28},{"p":"FEM","t":2008.25,"lo":0.02,"m":0.67,"hi":1.34},{"p":"FEM","t":2008.75,"lo":0.14,"m":0.76,"hi":1.42},{"p":"FEM","t":2009.25,"lo":0.24,"m":0.8,"hi":1.38},{"p":"FEM","t":2009.75,"lo":0.32,"m":0.85,"hi":1.4},{"p":"FEM","t":2010.25,"lo":0.22,"m":0.74,"hi":1.3},{"p":"FEM","t":2010.75,"lo":0.3,"m":0.8,"hi":1.3},{"p":"FEM","t":2011.25,"lo":0.26,"m":0.72,"hi":1.18},{"p":"FEM","t":2011.75,"lo":0.38,"m":0.86,"hi":1.34},{"p":"FEM","t":2012.25,"lo":0.3,"m":0.78,"hi":1.26},{"p":"FEM","t":2012.75,"lo":0.38,"m":0.84,"hi":1.32},{"p":"FEM","t":2013.25,"lo":0.28,"m":0.72,"hi":1.16},{"p":"FEM","t":2013.75,"lo":0.33,"m":0.76,"hi":1.2},{"p":"FEM","t":2014.25,"lo":0.36,"m":0.8,"hi":1.24},{"p":"FEM","t":2014.75,"lo":0.32,"m":0.73,"hi":1.15},{"p":"FEM","t":2015.25,"lo":0.29,"m":0.7,"hi":1.12},{"p":"FEM","t":2015.75,"lo":0.3,"m":0.72,"hi":1.18},{"p":"FEM","t":2016.25,"lo":0.21,"m":0.67,"hi":1.14},{"p":"FEM","t":2016.75,"lo":0.16,"m":0.64,"hi":1.12},{"p":"FEM","t":2017.25,"lo":0.35,"m":0.9,"hi":1.45},{"p":"FEM","t":2017.75,"lo":0.38,"m":0.93,"hi":1.5}
]},
"concat":[
{"width":480,"height":28,"data":{"values":[{"a":"RE1"}]},"mark":{"type":"text","fontStyle":"italic","fontWeight":"bold"},"encoding":{"text":{"field":"a"},"x":{"datum":0.5,"type":"quantitative","scale":{"domain":[0,1]},"axis":null},"y":{"datum":0.5,"type":"quantitative","scale":{"domain":[0,1]},"axis":null}}},
{"width":480,"height":28,"data":{"values":[{"a":"RE2"}]},"mark":{"type":"text","fontStyle":"italic","fontWeight":"bold"},"encoding":{"text":{"field":"a"},"x":{"datum":0.5,"type":"quantitative","scale":{"domain":[0,1]},"axis":null},"y":{"datum":0.5,"type":"quantitative","scale":{"domain":[0,1]},"axis":null}}},
{"width":480,"height":28,"data":{"values":[{"a":"RE3"}]},"mark":{"type":"text","fontStyle":"italic","fontWeight":"bold"},"encoding":{"text":{"field":"a"},"x":{"datum":0.5,"type":"quantitative","scale":{"domain":[0,1]},"axis":null},"y":{"datum":0.5,"type":"quantitative","scale":{"domain":[0,1]},"axis":null}}},
{"width":480,"height":28,"data":{"values":[{"a":"RE4","b":"(H,A)"}]},"encoding":{"x":{"datum":0.5,"type":"quantitative","scale":{"domain":[0,1]},"axis":null},"y":{"datum":0.5,"type":"quantitative","scale":{"domain":[0,1]},"axis":null}},"layer":[{"mark":{"type":"text","fontStyle":"italic","fontWeight":"bold","align":"right","dx":-9},"encoding":{"text":{"field":"a"}}},{"mark":{"type":"text","align":"left","dx":-3},"encoding":{"text":{"field":"b"}}}]},
{"width":480,"height":230,"data":{"name":"est"},"resolve":{"axis":{"x":"independent","y":"independent"}},"layer":[
{"transform":[{"filter":"datum.p==='RE1'"},{"fold":["lo","m","hi"],"as":["s","v"]}],"mark":{"type":"line","opacity":0},"encoding":{"x":{"field":"t","type":"quantitative","scale":{"domain":[2006,2018],"range":[86,396],"zero":false,"nice":false},"axis":{"orient":"bottom","offset":-13,"tickCount":60,"labels":false,"domain":false,"tickSize":-2,"title":null}},"y":{"field":"v","type":"quantitative","scale":{"domain":[0.081,1.2],"range":[217,15],"zero":false,"nice":false},"axis":{"orient":"left","offset":-86,"tickCount":22,"labels":false,"domain":false,"tickSize":-2,"title":null}},"detail":{"field":"s"}}},
{"transform":[{"filter":"datum.p==='RE1'"},{"fold":["lo","m","hi"],"as":["s","v"]}],"mark":{"type":"line","strokeWidth":1.2},"encoding":{"x":{"field":"t","type":"quantitative","scale":{"domain":[2006,2018],"range":[86,396],"zero":false,"nice":false},"axis":{"orient":"bottom","offset":-13,"values":[2006,2007,2008,2009,2010,2011,2012,2013,2014,2015,2016,2017,2018],"format":"d","title":null}},"y":{"field":"v","type":"quantitative","scale":{"domain":[0.081,1.2],"range":[217,15],"zero":false,"nice":false},"axis":{"orient":"left","offset":-86,"values":[0.2,0.4,0.6,0.8,1.0,1.2],"format":".1f","title":null}},"color":{"field":"s","type":"nominal","scale":{"domain":["lo","m","hi"],"range":["#808080","#505050","#808080"]},"legend":null},"strokeDash":{"field":"s","type":"nominal","scale":{"domain":["lo","m","hi"],"range":[[2,2],[1,0],[2,2]]},"legend":null}}}]},
{"width":480,"height":230,"data":{"name":"est"},"resolve":{"axis":{"x":"independent","y":"independent"}},"layer":[
{"data":{"values":[{}]},"mark":{"type":"rule","color":"#aaaaaa","strokeWidth":1.2},"encoding":{"x":{"datum":2006,"type":"quantitative","axis":null},"x2":{"datum":2018},"y":{"datum":0,"type":"quantitative","axis":null}}},
{"transform":[{"filter":"datum.p==='RE2'"},{"fold":["lo","m","hi"],"as":["s","v"]}],"mark":{"type":"line","opacity":0},"encoding":{"x":{"field":"t","type":"quantitative","scale":{"domain":[2006,2018],"range":[86,396],"zero":false,"nice":false},"axis":{"orient":"bottom","offset":-13,"tickCount":60,"labels":false,"domain":false,"tickSize":-2,"title":null}},"y":{"field":"v","type":"quantitative","scale":{"domain":[-0.28,1.11],"range":[217,15],"zero":false,"nice":false},"axis":{"orient":"left","offset":-86,"tickCount":28,"labels":false,"domain":false,"tickSize":-2,"title":null}},"detail":{"field":"s"}}},
{"transform":[{"filter":"datum.p==='RE2'"},{"fold":["lo","m","hi"],"as":["s","v"]}],"mark":{"type":"line","strokeWidth":1.2},"encoding":{"x":{"field":"t","type":"quantitative","scale":{"domain":[2006,2018],"range":[86,396],"zero":false,"nice":false},"axis":{"orient":"bottom","offset":-13,"values":[2006,2007,2008,2009,2010,2011,2012,2013,2014,2015,2016,2017,2018],"format":"d","title":null}},"y":{"field":"v","type":"quantitative","scale":{"domain":[-0.28,1.11],"range":[217,15],"zero":false,"nice":false},"axis":{"orient":"left","offset":-86,"values":[-0.2,0,0.2,0.4,0.6,0.8,1.0],"format":".1f","title":null}},"color":{"field":"s","type":"nominal","scale":{"domain":["lo","m","hi"],"range":["#808080","#505050","#808080"]},"legend":null},"strokeDash":{"field":"s","type":"nominal","scale":{"domain":["lo","m","hi"],"range":[[2,2],[1,0],[2,2]]},"legend":null}}}]},
{"width":480,"height":230,"data":{"name":"est"},"resolve":{"axis":{"x":"independent","y":"independent"}},"layer":[
{"data":{"values":[{}]},"mark":{"type":"rule","color":"#aaaaaa","strokeWidth":1.2},"encoding":{"x":{"datum":2006,"type":"quantitative","axis":null},"x2":{"datum":2018},"y":{"datum":0,"type":"quantitative","axis":null}}},
{"transform":[{"filter":"datum.p==='RE3'"},{"fold":["lo","m","hi"],"as":["s","v"]}],"mark":{"type":"line","opacity":0},"encoding":{"x":{"field":"t","type":"quantitative","scale":{"domain":[2006,2018],"range":[86,396],"zero":false,"nice":false},"axis":{"orient":"bottom","offset":-13,"tickCount":60,"labels":false,"domain":false,"tickSize":-2,"title":null}},"y":{"field":"v","type":"quantitative","scale":{"domain":[-0.115,1.153],"range":[217,15],"zero":false,"nice":false},"axis":{"orient":"left","offset":-86,"tickCount":25,"labels":false,"domain":false,"tickSize":-2,"title":null}},"detail":{"field":"s"}}},
{"transform":[{"filter":"datum.p==='RE3'"},{"fold":["lo","m","hi"],"as":["s","v"]}],"mark":{"type":"line","strokeWidth":1.2},"encoding":{"x":{"field":"t","type":"quantitative","scale":{"domain":[2006,2018],"range":[86,396],"zero":false,"nice":false},"axis":{"orient":"bottom","offset":-13,"values":[2006,2007,2008,2009,2010,2011,2012,2013,2014,2015,2016,2017,2018],"format":"d","title":null}},"y":{"field":"v","type":"quantitative","scale":{"domain":[-0.115,1.153],"range":[217,15],"zero":false,"nice":false},"axis":{"orient":"left","offset":-86,"values":[0,0.2,0.4,0.6,0.8,1.0],"format":".1f","title":null}},"color":{"field":"s","type":"nominal","scale":{"domain":["lo","m","hi"],"range":["#808080","#505050","#808080"]},"legend":null},"strokeDash":{"field":"s","type":"nominal","scale":{"domain":["lo","m","hi"],"range":[[2,2],[1,0],[2,2]]},"legend":null}}}]},
{"width":480,"height":230,"data":{"name":"est"},"resolve":{"axis":{"x":"independent","y":"independent"}},"layer":[
{"data":{"values":[{}]},"mark":{"type":"rule","color":"#aaaaaa","strokeWidth":1.2},"encoding":{"x":{"datum":2006.63,"type":"quantitative","axis":null},"x2":{"datum":2018.1},"y":{"datum":0,"type":"quantitative","axis":null}}},
{"transform":[{"filter":"datum.p==='RE4'"},{"fold":["lo","m","hi"],"as":["s","v"]}],"mark":{"type":"line","opacity":0},"encoding":{"x":{"field":"t","type":"quantitative","scale":{"domain":[2006.63,2018.1],"range":[86,396],"zero":false,"nice":false},"axis":{"orient":"bottom","offset":-13,"tickCount":57,"labels":false,"domain":false,"tickSize":-2,"title":null}},"y":{"field":"v","type":"quantitative","scale":{"domain":[-0.455,1.142],"range":[217,15],"zero":false,"nice":false},"axis":{"orient":"left","offset":-86,"tickCount":32,"labels":false,"domain":false,"tickSize":-2,"title":null}},"detail":{"field":"s"}}},
{"transform":[{"filter":"datum.p==='RE4'"},{"fold":["lo","m","hi"],"as":["s","v"]}],"mark":{"type":"line","strokeWidth":1.2},"encoding":{"x":{"field":"t","type":"quantitative","scale":{"domain":[2006.63,2018.1],"range":[86,396],"zero":false,"nice":false},"axis":{"orient":"bottom","offset":-13,"values":[2007,2008,2009,2010,2011,2012,2013,2014,2015,2016,2017,2018],"format":"d","title":null}},"y":{"field":"v","type":"quantitative","scale":{"domain":[-0.455,1.142],"range":[217,15],"zero":false,"nice":false},"axis":{"orient":"left","offset":-86,"values":[-0.25,0,0.25,0.5,0.75,1.0],"format":".2f","title":null}},"color":{"field":"s","type":"nominal","scale":{"domain":["lo","m","hi"],"range":["#808080","#505050","#808080"]},"legend":null},"strokeDash":{"field":"s","type":"nominal","scale":{"domain":["lo","m","hi"],"range":[[2,2],[1,0],[2,2]]},"legend":null}}}]},
{"width":480,"height":28,"data":{"values":[{"a":"AG1"}]},"mark":{"type":"text","fontStyle":"italic","fontWeight":"bold"},"encoding":{"text":{"field":"a"},"x":{"datum":0.5,"type":"quantitative","scale":{"domain":[0,1]},"axis":null},"y":{"datum":0.5,"type":"quantitative","scale":{"domain":[0,1]},"axis":null}}},
{"width":480,"height":28,"data":{"values":[{"a":"AG2"}]},"mark":{"type":"text","fontStyle":"italic","fontWeight":"bold"},"encoding":{"text":{"field":"a"},"x":{"datum":0.5,"type":"quantitative","scale":{"domain":[0,1]},"axis":null},"y":{"datum":0.5,"type":"quantitative","scale":{"domain":[0,1]},"axis":null}}},
{"width":480,"height":28,"data":{"values":[{"a":"AG3","b":"(N)"}]},"encoding":{"x":{"datum":0.5,"type":"quantitative","scale":{"domain":[0,1]},"axis":null},"y":{"datum":0.5,"type":"quantitative","scale":{"domain":[0,1]},"axis":null}},"layer":[{"mark":{"type":"text","fontStyle":"italic","fontWeight":"bold","align":"right","dx":3},"encoding":{"text":{"field":"a"}}},{"mark":{"type":"text","align":"left","dx":9},"encoding":{"text":{"field":"b"}}}]},
{"width":480,"height":28,"data":{"values":[{"a":"AG4"}]},"mark":{"type":"text","fontStyle":"italic","fontWeight":"bold"},"encoding":{"text":{"field":"a"},"x":{"datum":0.5,"type":"quantitative","scale":{"domain":[0,1]},"axis":null},"y":{"datum":0.5,"type":"quantitative","scale":{"domain":[0,1]},"axis":null}}},
{"width":480,"height":230,"data":{"name":"est"},"resolve":{"axis":{"x":"independent","y":"independent"}},"layer":[
{"transform":[{"filter":"datum.p==='AG1'"},{"fold":["lo","m","hi"],"as":["s","v"]}],"mark":{"type":"line","opacity":0},"encoding":{"x":{"field":"t","type":"quantitative","scale":{"domain":[2006,2018],"range":[86,396],"zero":false,"nice":false},"axis":{"orient":"bottom","offset":-13,"tickCount":60,"labels":false,"domain":false,"tickSize":-2,"title":null}},"y":{"field":"v","type":"quantitative","scale":{"domain":[0.456,1.822],"range":[217,15],"zero":false,"nice":false},"axis":{"orient":"left","offset":-86,"tickCount":27,"labels":false,"domain":false,"tickSize":-2,"title":null}},"detail":{"field":"s"}}},
{"transform":[{"filter":"datum.p==='AG1'"},{"fold":["lo","m","hi"],"as":["s","v"]}],"mark":{"type":"line","strokeWidth":1.2},"encoding":{"x":{"field":"t","type":"quantitative","scale":{"domain":[2006,2018],"range":[86,396],"zero":false,"nice":false},"axis":{"orient":"bottom","offset":-13,"values":[2006,2007,2008,2009,2010,2011,2012,2013,2014,2015,2016,2017,2018],"format":"d","title":null}},"y":{"field":"v","type":"quantitative","scale":{"domain":[0.456,1.822],"range":[217,15],"zero":false,"nice":false},"axis":{"orient":"left","offset":-86,"values":[0.6,0.8,1.0,1.2,1.4,1.6,1.8],"format":".1f","title":null}},"color":{"field":"s","type":"nominal","scale":{"domain":["lo","m","hi"],"range":["#808080","#505050","#808080"]},"legend":null},"strokeDash":{"field":"s","type":"nominal","scale":{"domain":["lo","m","hi"],"range":[[2,2],[1,0],[2,2]]},"legend":null}}}]},
{"width":480,"height":230,"data":{"name":"est"},"resolve":{"axis":{"x":"independent","y":"independent"}},"layer":[
{"transform":[{"filter":"datum.p==='AG2'"},{"fold":["lo","m","hi"],"as":["s","v"]}],"mark":{"type":"line","opacity":0},"encoding":{"x":{"field":"t","type":"quantitative","scale":{"domain":[2006,2018],"range":[86,396],"zero":false,"nice":false},"axis":{"orient":"bottom","offset":-13,"tickCount":60,"labels":false,"domain":false,"tickSize":-2,"title":null}},"y":{"field":"v","type":"quantitative","scale":{"domain":[0.288,1.307],"range":[217,15],"zero":false,"nice":false},"axis":{"orient":"left","offset":-86,"tickCount":51,"labels":false,"domain":false,"tickSize":-2,"title":null}},"detail":{"field":"s"}}},
{"transform":[{"filter":"datum.p==='AG2'"},{"fold":["lo","m","hi"],"as":["s","v"]}],"mark":{"type":"line","strokeWidth":1.2},"encoding":{"x":{"field":"t","type":"quantitative","scale":{"domain":[2006,2018],"range":[86,396],"zero":false,"nice":false},"axis":{"orient":"bottom","offset":-13,"values":[2006,2007,2008,2009,2010,2011,2012,2013,2014,2015,2016,2017,2018],"format":"d","title":null}},"y":{"field":"v","type":"quantitative","scale":{"domain":[0.288,1.307],"range":[217,15],"zero":false,"nice":false},"axis":{"orient":"left","offset":-86,"values":[0.4,0.5,0.6,0.7,0.8,0.9,1.0,1.1,1.2,1.3],"format":".1f","title":null}},"color":{"field":"s","type":"nominal","scale":{"domain":["lo","m","hi"],"range":["#808080","#505050","#808080"]},"legend":null},"strokeDash":{"field":"s","type":"nominal","scale":{"domain":["lo","m","hi"],"range":[[2,2],[1,0],[2,2]]},"legend":null}}}]},
{"width":480,"height":230,"data":{"name":"est"},"resolve":{"axis":{"x":"independent","y":"independent"}},"layer":[
{"data":{"values":[{}]},"mark":{"type":"rule","color":"#aaaaaa","strokeWidth":1.2},"encoding":{"x":{"datum":2006,"type":"quantitative","axis":null},"x2":{"datum":2018},"y":{"datum":0,"type":"quantitative","axis":null}}},
{"transform":[{"filter":"datum.p==='AG3'"},{"fold":["lo","m","hi"],"as":["s","v"]}],"mark":{"type":"line","opacity":0},"encoding":{"x":{"field":"t","type":"quantitative","scale":{"domain":[2006,2018],"range":[86,396],"zero":false,"nice":false},"axis":{"orient":"bottom","offset":-13,"tickCount":60,"labels":false,"domain":false,"tickSize":-2,"title":null}},"y":{"field":"v","type":"quantitative","scale":{"domain":[-0.045,1.54],"range":[217,15],"zero":false,"nice":false},"axis":{"orient":"left","offset":-86,"tickCount":32,"labels":false,"domain":false,"tickSize":-2,"title":null}},"detail":{"field":"s"}}},
{"transform":[{"filter":"datum.p==='AG3'"},{"fold":["lo","m","hi"],"as":["s","v"]}],"mark":{"type":"line","strokeWidth":1.2},"encoding":{"x":{"field":"t","type":"quantitative","scale":{"domain":[2006,2018],"range":[86,396],"zero":false,"nice":false},"axis":{"orient":"bottom","offset":-13,"values":[2006,2007,2008,2009,2010,2011,2012,2013,2014,2015,2016,2017,2018],"format":"d","title":null}},"y":{"field":"v","type":"quantitative","scale":{"domain":[-0.045,1.54],"range":[217,15],"zero":false,"nice":false},"axis":{"orient":"left","offset":-86,"values":[0,0.25,0.5,0.75,1.0,1.25,1.5],"format":".2f","title":null}},"color":{"field":"s","type":"nominal","scale":{"domain":["lo","m","hi"],"range":["#808080","#505050","#808080"]},"legend":null},"strokeDash":{"field":"s","type":"nominal","scale":{"domain":["lo","m","hi"],"range":[[2,2],[1,0],[2,2]]},"legend":null}}}]},
{"width":480,"height":230,"data":{"name":"est"},"resolve":{"axis":{"x":"independent","y":"independent"}},"layer":[
{"data":{"values":[{}]},"mark":{"type":"rule","color":"#aaaaaa","strokeWidth":1.2},"encoding":{"x":{"datum":2006,"type":"quantitative","axis":null},"x2":{"datum":2018},"y":{"datum":0,"type":"quantitative","axis":null}}},
{"transform":[{"filter":"datum.p==='AG4'"},{"fold":["lo","m","hi"],"as":["s","v"]}],"mark":{"type":"line","opacity":0},"encoding":{"x":{"field":"t","type":"quantitative","scale":{"domain":[2006,2018],"range":[86,396],"zero":false,"nice":false},"axis":{"orient":"bottom","offset":-13,"tickCount":60,"labels":false,"domain":false,"tickSize":-2,"title":null}},"y":{"field":"v","type":"quantitative","scale":{"domain":[-0.04,1.32],"range":[217,15],"zero":false,"nice":false},"axis":{"orient":"left","offset":-86,"tickCount":27,"labels":false,"domain":false,"tickSize":-2,"title":null}},"detail":{"field":"s"}}},
{"transform":[{"filter":"datum.p==='AG4'"},{"fold":["lo","m","hi"],"as":["s","v"]}],"mark":{"type":"line","strokeWidth":1.2},"encoding":{"x":{"field":"t","type":"quantitative","scale":{"domain":[2006,2018],"range":[86,396],"zero":false,"nice":false},"axis":{"orient":"bottom","offset":-13,"values":[2006,2007,2008,2009,2010,2011,2012,2013,2014,2015,2016,2017,2018],"format":"d","title":null}},"y":{"field":"v","type":"quantitative","scale":{"domain":[-0.04,1.32],"range":[217,15],"zero":false,"nice":false},"axis":{"orient":"left","offset":-86,"values":[0,0.2,0.4,0.6,0.8,1.0,1.2],"format":".1f","title":null}},"color":{"field":"s","type":"nominal","scale":{"domain":["lo","m","hi"],"range":["#808080","#505050","#808080"]},"legend":null},"strokeDash":{"field":"s","type":"nominal","scale":{"domain":["lo","m","hi"],"range":[[2,2],[1,0],[2,2]]},"legend":null}}}]},
{"width":480,"height":33,"data":{"values":[{"a":"ED1","b":"(N)"}]},"encoding":{"x":{"datum":0.5,"type":"quantitative","scale":{"domain":[0,1]},"axis":null},"y":{"datum":0.5,"type":"quantitative","scale":{"domain":[0,1]},"axis":null}},"layer":[{"mark":{"type":"text","fontStyle":"italic","fontWeight":"bold","align":"right","dx":3},"encoding":{"text":{"field":"a"}}},{"mark":{"type":"text","align":"left","dx":9},"encoding":{"text":{"field":"b"}}}]},
{"width":480,"height":33,"data":{"values":[{"a":"ED2"}]},"mark":{"type":"text","fontStyle":"italic","fontWeight":"bold"},"encoding":{"text":{"field":"a"},"x":{"datum":0.5,"type":"quantitative","scale":{"domain":[0,1]},"axis":null},"y":{"datum":0.5,"type":"quantitative","scale":{"domain":[0,1]},"axis":null}}},
{"width":480,"height":33,"data":{"values":[{"a":"ED3"}]},"mark":{"type":"text","fontStyle":"italic","fontWeight":"bold"},"encoding":{"text":{"field":"a"},"x":{"datum":0.5,"type":"quantitative","scale":{"domain":[0,1]},"axis":null},"y":{"datum":0.5,"type":"quantitative","scale":{"domain":[0,1]},"axis":null}}},
{"width":480,"height":33,"data":{"values":[{"a":"MAL","b":"(N)"}]},"encoding":{"x":{"datum":0.5,"type":"quantitative","scale":{"domain":[0,1]},"axis":null},"y":{"datum":0.5,"type":"quantitative","scale":{"domain":[0,1]},"axis":null}},"layer":[{"mark":{"type":"text","fontStyle":"italic","fontWeight":"bold","align":"right","dx":6},"encoding":{"text":{"field":"a"}}},{"mark":{"type":"text","align":"left","dx":12},"encoding":{"text":{"field":"b"}}}]},
{"width":480,"height":230,"data":{"name":"est"},"resolve":{"axis":{"x":"independent","y":"independent"}},"layer":[
{"transform":[{"filter":"datum.p==='ED1'"},{"fold":["lo","m","hi"],"as":["s","v"]}],"mark":{"type":"line","opacity":0},"encoding":{"x":{"field":"t","type":"quantitative","scale":{"domain":[2006,2018],"range":[86,396],"zero":false,"nice":false},"axis":{"orient":"bottom","offset":-13,"tickCount":60,"labels":false,"domain":false,"tickSize":-2,"title":null}},"y":{"field":"v","type":"quantitative","scale":{"domain":[0.0,1.21],"range":[217,15],"zero":false,"nice":false},"axis":{"orient":"left","offset":-86,"tickCount":24,"labels":false,"domain":false,"tickSize":-2,"title":null}},"detail":{"field":"s"}}},
{"transform":[{"filter":"datum.p==='ED1'"},{"fold":["lo","m","hi"],"as":["s","v"]}],"mark":{"type":"line","strokeWidth":1.2},"encoding":{"x":{"field":"t","type":"quantitative","scale":{"domain":[2006,2018],"range":[86,396],"zero":false,"nice":false},"axis":{"orient":"bottom","offset":-13,"values":[2006,2007,2008,2009,2010,2011,2012,2013,2014,2015,2016,2017,2018],"format":"d","title":null}},"y":{"field":"v","type":"quantitative","scale":{"domain":[0.0,1.21],"range":[217,15],"zero":false,"nice":false},"axis":{"orient":"left","offset":-86,"values":[0.2,0.4,0.6,0.8,1.0,1.2],"format":".1f","title":null}},"color":{"field":"s","type":"nominal","scale":{"domain":["lo","m","hi"],"range":["#808080","#505050","#808080"]},"legend":null},"strokeDash":{"field":"s","type":"nominal","scale":{"domain":["lo","m","hi"],"range":[[2,2],[1,0],[2,2]]},"legend":null}}}]},
{"width":480,"height":230,"data":{"name":"est"},"resolve":{"axis":{"x":"independent","y":"independent"}},"layer":[
{"transform":[{"filter":"datum.p==='ED2'"},{"fold":["lo","m","hi"],"as":["s","v"]}],"mark":{"type":"line","opacity":0},"encoding":{"x":{"field":"t","type":"quantitative","scale":{"domain":[2006,2018],"range":[86,396],"zero":false,"nice":false},"axis":{"orient":"bottom","offset":-13,"tickCount":60,"labels":false,"domain":false,"tickSize":-2,"title":null}},"y":{"field":"v","type":"quantitative","scale":{"domain":[0.13,1.23],"range":[217,15],"zero":false,"nice":false},"axis":{"orient":"left","offset":-86,"tickCount":22,"labels":false,"domain":false,"tickSize":-2,"title":null}},"detail":{"field":"s"}}},
{"transform":[{"filter":"datum.p==='ED2'"},{"fold":["lo","m","hi"],"as":["s","v"]}],"mark":{"type":"line","strokeWidth":1.2},"encoding":{"x":{"field":"t","type":"quantitative","scale":{"domain":[2006,2018],"range":[86,396],"zero":false,"nice":false},"axis":{"orient":"bottom","offset":-13,"values":[2006,2007,2008,2009,2010,2011,2012,2013,2014,2015,2016,2017,2018],"format":"d","title":null}},"y":{"field":"v","type":"quantitative","scale":{"domain":[0.13,1.23],"range":[217,15],"zero":false,"nice":false},"axis":{"orient":"left","offset":-86,"values":[0.2,0.4,0.6,0.8,1.0,1.2],"format":".1f","title":null}},"color":{"field":"s","type":"nominal","scale":{"domain":["lo","m","hi"],"range":["#808080","#505050","#808080"]},"legend":null},"strokeDash":{"field":"s","type":"nominal","scale":{"domain":["lo","m","hi"],"range":[[2,2],[1,0],[2,2]]},"legend":null}}}]},
{"width":480,"height":230,"data":{"name":"est"},"resolve":{"axis":{"x":"independent","y":"independent"}},"layer":[
{"transform":[{"filter":"datum.p==='ED3'"},{"fold":["lo","m","hi"],"as":["s","v"]}],"mark":{"type":"line","opacity":0},"encoding":{"x":{"field":"t","type":"quantitative","scale":{"domain":[2006,2018],"range":[86,396],"zero":false,"nice":false},"axis":{"orient":"bottom","offset":-13,"tickCount":60,"labels":false,"domain":false,"tickSize":-2,"title":null}},"y":{"field":"v","type":"quantitative","scale":{"domain":[0.22,1.78],"range":[217,15],"zero":false,"nice":false},"axis":{"orient":"left","offset":-86,"tickCount":31,"labels":false,"domain":false,"tickSize":-2,"title":null}},"detail":{"field":"s"}}},
{"transform":[{"filter":"datum.p==='ED3'"},{"fold":["lo","m","hi"],"as":["s","v"]}],"mark":{"type":"line","strokeWidth":1.2},"encoding":{"x":{"field":"t","type":"quantitative","scale":{"domain":[2006,2018],"range":[86,396],"zero":false,"nice":false},"axis":{"orient":"bottom","offset":-13,"values":[2006,2007,2008,2009,2010,2011,2012,2013,2014,2015,2016,2017,2018],"format":"d","title":null}},"y":{"field":"v","type":"quantitative","scale":{"domain":[0.22,1.78],"range":[217,15],"zero":false,"nice":false},"axis":{"orient":"left","offset":-86,"values":[0.25,0.5,0.75,1.0,1.25,1.5,1.75],"format":".2f","title":null}},"color":{"field":"s","type":"nominal","scale":{"domain":["lo","m","hi"],"range":["#808080","#505050","#808080"]},"legend":null},"strokeDash":{"field":"s","type":"nominal","scale":{"domain":["lo","m","hi"],"range":[[2,2],[1,0],[2,2]]},"legend":null}}}]},
{"width":480,"height":230,"data":{"name":"est"},"resolve":{"axis":{"x":"independent","y":"independent"}},"layer":[
{"data":{"values":[{}]},"mark":{"type":"rule","color":"#aaaaaa","strokeWidth":1.2},"encoding":{"x":{"datum":2006,"type":"quantitative","axis":null},"x2":{"datum":2018},"y":{"datum":0,"type":"quantitative","axis":null}}},
{"transform":[{"filter":"datum.p==='MAL'"},{"fold":["lo","m","hi"],"as":["s","v"]}],"mark":{"type":"line","opacity":0},"encoding":{"x":{"field":"t","type":"quantitative","scale":{"domain":[2006,2018],"range":[86,396],"zero":false,"nice":false},"axis":{"orient":"bottom","offset":-13,"tickCount":60,"labels":false,"domain":false,"tickSize":-2,"title":null}},"y":{"field":"v","type":"quantitative","scale":{"domain":[-0.1,1.55],"range":[217,15],"zero":false,"nice":false},"axis":{"orient":"left","offset":-86,"tickCount":33,"labels":false,"domain":false,"tickSize":-2,"title":null}},"detail":{"field":"s"}}},
{"transform":[{"filter":"datum.p==='MAL'"},{"fold":["lo","m","hi"],"as":["s","v"]}],"mark":{"type":"line","strokeWidth":1.2},"encoding":{"x":{"field":"t","type":"quantitative","scale":{"domain":[2006,2018],"range":[86,396],"zero":false,"nice":false},"axis":{"orient":"bottom","offset":-13,"values":[2006,2007,2008,2009,2010,2011,2012,2013,2014,2015,2016,2017,2018],"format":"d","title":null}},"y":{"field":"v","type":"quantitative","scale":{"domain":[-0.1,1.55],"range":[217,15],"zero":false,"nice":false},"axis":{"orient":"left","offset":-86,"values":[0,0.25,0.5,0.75,1.0,1.25,1.5],"format":".2f","title":null}},"color":{"field":"s","type":"nominal","scale":{"domain":["lo","m","hi"],"range":["#808080","#505050","#808080"]},"legend":null},"strokeDash":{"field":"s","type":"nominal","scale":{"domain":["lo","m","hi"],"range":[[2,2],[1,0],[2,2]]},"legend":null}}}]},
{"width":480,"height":28,"data":{"values":[{"a":"PR0"}]},"mark":{"type":"text","fontStyle":"italic","fontWeight":"bold"},"encoding":{"text":{"field":"a"},"x":{"datum":0.5,"type":"quantitative","scale":{"domain":[0,1]},"axis":null},"y":{"datum":0.5,"type":"quantitative","scale":{"domain":[0,1]},"axis":null}}},
{"width":480,"height":28,"data":{"values":[{"a":"PR8"}]},"mark":{"type":"text","fontStyle":"italic","fontWeight":"bold"},"encoding":{"text":{"field":"a"},"x":{"datum":0.5,"type":"quantitative","scale":{"domain":[0,1]},"axis":null},"y":{"datum":0.5,"type":"quantitative","scale":{"domain":[0,1]},"axis":null}}},
{"width":480,"height":28,"data":{"values":[{"a":"PR9"}]},"mark":{"type":"text","fontStyle":"italic","fontWeight":"bold"},"encoding":{"text":{"field":"a"},"x":{"datum":0.5,"type":"quantitative","scale":{"domain":[0,1]},"axis":null},"y":{"datum":0.5,"type":"quantitative","scale":{"domain":[0,1]},"axis":null}}},
{"width":480,"height":28,"data":{"values":[{"a":"FEM"}]},"mark":{"type":"text","fontStyle":"italic","fontWeight":"bold"},"encoding":{"text":{"field":"a"},"x":{"datum":0.5,"type":"quantitative","scale":{"domain":[0,1]},"axis":null},"y":{"datum":0.5,"type":"quantitative","scale":{"domain":[0,1]},"axis":null}}},
{"width":480,"height":230,"data":{"name":"est"},"resolve":{"axis":{"x":"independent","y":"independent"}},"layer":[
{"transform":[{"filter":"datum.p==='PR0'"},{"fold":["lo","m","hi"],"as":["s","v"]}],"mark":{"type":"line","opacity":0},"encoding":{"x":{"field":"t","type":"quantitative","scale":{"domain":[2006,2016.5],"range":[86,396],"zero":false,"nice":false},"axis":{"orient":"bottom","offset":-15,"tickCount":52,"labels":false,"domain":false,"tickSize":-2,"title":null}},"y":{"field":"v","type":"quantitative","scale":{"domain":[0.0,1.08],"range":[215,15],"zero":false,"nice":false},"axis":{"orient":"left","offset":-86,"tickCount":54,"labels":false,"domain":false,"tickSize":-2,"title":null}},"detail":{"field":"s"}}},
{"transform":[{"filter":"datum.p==='PR0'"},{"fold":["lo","m","hi"],"as":["s","v"]}],"mark":{"type":"line","strokeWidth":1.2},"encoding":{"x":{"field":"t","type":"quantitative","scale":{"domain":[2006,2016.5],"range":[86,396],"zero":false,"nice":false},"axis":{"orient":"bottom","offset":-15,"values":[2006,2007,2008,2009,2010,2011,2012,2013,2014,2015,2016],"format":"d","title":null}},"y":{"field":"v","type":"quantitative","scale":{"domain":[0.0,1.08],"range":[215,15],"zero":false,"nice":false},"axis":{"orient":"left","offset":-86,"values":[0.1,0.2,0.3,0.4,0.5,0.6,0.7,0.8,0.9,1.0],"format":".1f","title":null}},"color":{"field":"s","type":"nominal","scale":{"domain":["lo","m","hi"],"range":["#808080","#505050","#808080"]},"legend":null},"strokeDash":{"field":"s","type":"nominal","scale":{"domain":["lo","m","hi"],"range":[[2,2],[1,0],[2,2]]},"legend":null}}}]},
{"width":480,"height":230,"data":{"name":"est"},"resolve":{"axis":{"x":"independent","y":"independent"}},"layer":[
{"transform":[{"filter":"datum.p==='PR8'"},{"fold":["lo","m","hi"],"as":["s","v"]}],"mark":{"type":"line","opacity":0},"encoding":{"x":{"field":"t","type":"quantitative","scale":{"domain":[2006,2016.5],"range":[86,396],"zero":false,"nice":false},"axis":{"orient":"bottom","offset":-15,"tickCount":52,"labels":false,"domain":false,"tickSize":-2,"title":null}},"y":{"field":"v","type":"quantitative","scale":{"domain":[0.17,1.35],"range":[215,15],"zero":false,"nice":false},"axis":{"orient":"left","offset":-86,"tickCount":24,"labels":false,"domain":false,"tickSize":-2,"title":null}},"detail":{"field":"s"}}},
{"transform":[{"filter":"datum.p==='PR8'"},{"fold":["lo","m","hi"],"as":["s","v"]}],"mark":{"type":"line","strokeWidth":1.2},"encoding":{"x":{"field":"t","type":"quantitative","scale":{"domain":[2006,2016.5],"range":[86,396],"zero":false,"nice":false},"axis":{"orient":"bottom","offset":-15,"values":[2006,2007,2008,2009,2010,2011,2012,2013,2014,2015,2016],"format":"d","title":null}},"y":{"field":"v","type":"quantitative","scale":{"domain":[0.17,1.35],"range":[215,15],"zero":false,"nice":false},"axis":{"orient":"left","offset":-86,"values":[0.2,0.4,0.6,0.8,1.0,1.2],"format":".1f","title":null}},"color":{"field":"s","type":"nominal","scale":{"domain":["lo","m","hi"],"range":["#808080","#505050","#808080"]},"legend":null},"strokeDash":{"field":"s","type":"nominal","scale":{"domain":["lo","m","hi"],"range":[[2,2],[1,0],[2,2]]},"legend":null}}}]},
{"width":480,"height":230,"data":{"name":"est"},"resolve":{"axis":{"x":"independent","y":"independent"}},"layer":[
{"transform":[{"filter":"datum.p==='PR9'"},{"fold":["lo","m","hi"],"as":["s","v"]}],"mark":{"type":"line","opacity":0},"encoding":{"x":{"field":"t","type":"quantitative","scale":{"domain":[2006,2016.5],"range":[86,396],"zero":false,"nice":false},"axis":{"orient":"bottom","offset":-15,"tickCount":52,"labels":false,"domain":false,"tickSize":-2,"title":null}},"y":{"field":"v","type":"quantitative","scale":{"domain":[0.0,1.45],"range":[215,15],"zero":false,"nice":false},"axis":{"orient":"left","offset":-86,"tickCount":29,"labels":false,"domain":false,"tickSize":-2,"title":null}},"detail":{"field":"s"}}},
{"transform":[{"filter":"datum.p==='PR9'"},{"fold":["lo","m","hi"],"as":["s","v"]}],"mark":{"type":"line","strokeWidth":1.2},"encoding":{"x":{"field":"t","type":"quantitative","scale":{"domain":[2006,2016.5],"range":[86,396],"zero":false,"nice":false},"axis":{"orient":"bottom","offset":-15,"values":[2006,2007,2008,2009,2010,2011,2012,2013,2014,2015,2016],"format":"d","title":null}},"y":{"field":"v","type":"quantitative","scale":{"domain":[0.0,1.45],"range":[215,15],"zero":false,"nice":false},"axis":{"orient":"left","offset":-86,"values":[0.2,0.4,0.6,0.8,1.0,1.2,1.4],"format":".1f","title":null}},"color":{"field":"s","type":"nominal","scale":{"domain":["lo","m","hi"],"range":["#808080","#505050","#808080"]},"legend":null},"strokeDash":{"field":"s","type":"nominal","scale":{"domain":["lo","m","hi"],"range":[[2,2],[1,0],[2,2]]},"legend":null}}}]},
{"width":480,"height":230,"data":{"name":"est"},"resolve":{"axis":{"x":"independent","y":"independent"}},"layer":[
{"data":{"values":[{}]},"mark":{"type":"rule","color":"#aaaaaa","strokeWidth":1.2},"encoding":{"x":{"datum":2006,"type":"quantitative","axis":null},"x2":{"datum":2018},"y":{"datum":0,"type":"quantitative","axis":null}}},
{"transform":[{"filter":"datum.p==='FEM'"},{"fold":["lo","m","hi"],"as":["s","v"]}],"mark":{"type":"line","opacity":0},"encoding":{"x":{"field":"t","type":"quantitative","scale":{"domain":[2006,2018],"range":[86,396],"zero":false,"nice":false},"axis":{"orient":"bottom","offset":-15,"tickCount":60,"labels":false,"domain":false,"tickSize":-2,"title":null}},"y":{"field":"v","type":"quantitative","scale":{"domain":[-0.1,1.55],"range":[215,15],"zero":false,"nice":false},"axis":{"orient":"left","offset":-86,"tickCount":33,"labels":false,"domain":false,"tickSize":-2,"title":null}},"detail":{"field":"s"}}},
{"transform":[{"filter":"datum.p==='FEM'"},{"fold":["lo","m","hi"],"as":["s","v"]}],"mark":{"type":"line","strokeWidth":1.2},"encoding":{"x":{"field":"t","type":"quantitative","scale":{"domain":[2006,2018],"range":[86,396],"zero":false,"nice":false},"axis":{"orient":"bottom","offset":-15,"values":[2006,2007,2008,2009,2010,2011,2012,2013,2014,2015,2016,2017,2018],"format":"d","title":null}},"y":{"field":"v","type":"quantitative","scale":{"domain":[-0.1,1.55],"range":[215,15],"zero":false,"nice":false},"axis":{"orient":"left","offset":-86,"values":[0,0.25,0.5,0.75,1.0,1.25,1.5],"format":".2f","title":null}},"color":{"field":"s","type":"nominal","scale":{"domain":["lo","m","hi"],"range":["#808080","#505050","#808080"]},"legend":null},"strokeDash":{"field":"s","type":"nominal","scale":{"domain":["lo","m","hi"],"range":[[2,2],[1,0],[2,2]]},"legend":null}}}]}
]}
